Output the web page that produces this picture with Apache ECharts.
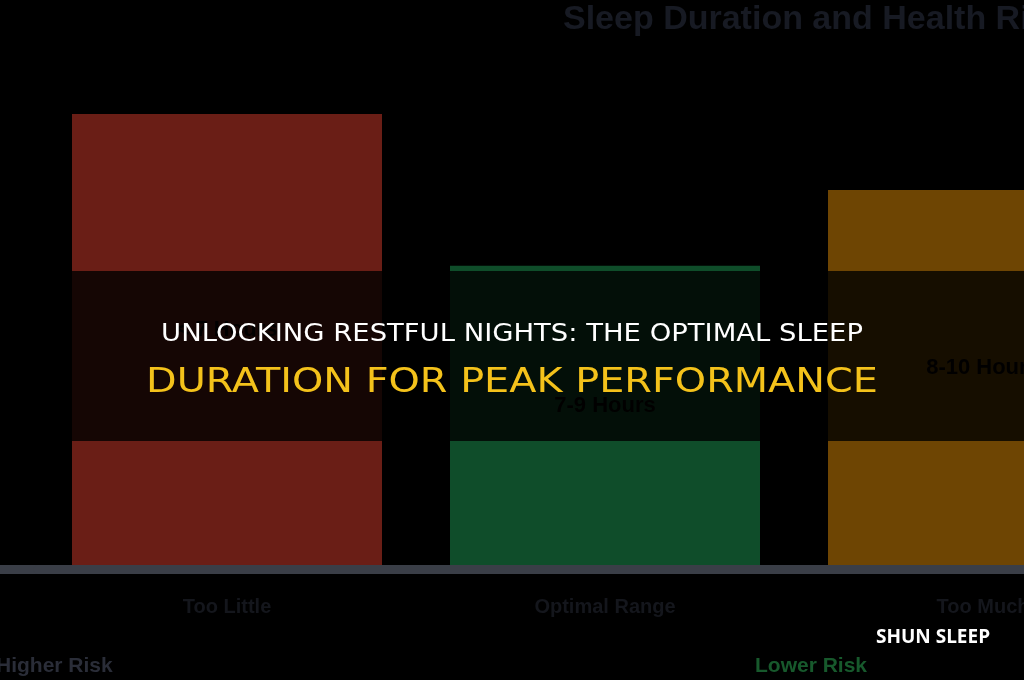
<!DOCTYPE html>
<html>
<head>
<meta charset="utf-8">
<script src="https://cdn.jsdelivr.net/npm/echarts@6/dist/echarts.min.js"></script>
<style>html,body{margin:0;padding:0;background:#000;}#c{width:1024px;height:680px;}</style>
</head>
<body>
<div id="c"></div>
<script>
const categories = ['Too Little', 'Optimal Range', 'Too Much'];
const riskValues = [1.2, 0.8, 1.0];
const barLabels = ['< 7 Hours', '7-9 Hours', '8-10 Hours'];
const barColors = ['#6a1e16', '#0f4d2a', '#6e4503'];
const chartTitle = 'Sleep Duration and Health Risk';
const riskLabels = ['Higher Risk', 'Lower Risk'];
const headline = ['UNLOCKING RESTFUL NIGHTS: THE OPTIMAL SLEEP', 'DURATION FOR PEAK PERFORMANCE'];
const brand = 'SHUN SLEEP';

const chart = echarts.init(document.getElementById('c'));
chart.setOption({
  backgroundColor: '#000',
  animation: false,
  title: {
    text: chartTitle, left: 558, top: -2,
    textStyle: { color: '#171a23', fontSize: 34, fontWeight: 'bold', fontFamily: 'Liberation Sans' }
  },
  grid: { left: 38, width: 1134, top: 114, bottom: 110.5, outerBoundsMode: 'none', containLabel: false },
  xAxis: {
    type: 'category', data: categories, z: 10,
    axisLine: { lineStyle: { color: '#3a3e47', width: 9 } },
    axisTick: { show: false },
    axisLabel: { color: '#14161c', fontSize: 20, fontWeight: 'bold', margin: 28, fontFamily: 'Liberation Sans' }
  },
  yAxis: { type: 'value', min: 0, max: 1.2, show: false },
  series: [{
    type: 'bar', barWidth: 310, z: 5,
    data: riskValues.map((v, i) => ({ value: v, itemStyle: { color: barColors[i] } })),
    label: {
      show: true, position: 'inside', offset: [0, -12],
      formatter: p => barLabels[p.dataIndex],
      color: '#050300', textBorderWidth: 0, fontSize: 22, fontWeight: 'bold', fontFamily: 'Liberation Sans'
    }
  }],
  graphic: [
    { type: 'rect', left: 0, top: 565, shape: { width: 40, height: 9 }, style: { fill: '#3a3e47' }, z: 1 },
    { type: 'text', left: -4, top: 656, style: { text: riskLabels[0], fill: '#2a2d38', fontSize: 21, fontWeight: 'bold', fontFamily: 'Liberation Sans' }, z: 10 },
    { type: 'text', left: 755, top: 656, style: { text: riskLabels[1], fill: '#17592c', fontSize: 21, fontWeight: 'bold', fontFamily: 'Liberation Sans' }, z: 10 },
    { type: 'rect', left: 0, top: 271, shape: { width: 1024, height: 170 }, style: { fill: 'rgba(0,0,0,0.8)' }, z: 100 },
    { type: 'text', x: 512, y: 334, scaleX: 1.097, style: { text: headline[0], fill: '#ffffff', fontSize: 25, fontFamily: 'DejaVu Sans', align: 'center', verticalAlign: 'middle' }, z: 101 },
    { type: 'text', x: 512, y: 383, scaleX: 1.17, style: { text: headline[1], fill: '#f4c21b', fontSize: 34, fontFamily: 'DejaVu Sans', align: 'center', verticalAlign: 'middle' }, z: 101 },
    { type: 'text', x: 933, y: 638, style: { text: brand, fill: '#ffffff', fontSize: 19, fontWeight: 'bold', fontFamily: 'Open Sans', align: 'center', verticalAlign: 'middle' }, z: 101 }
  ]
});
</script>
</body>
</html>
